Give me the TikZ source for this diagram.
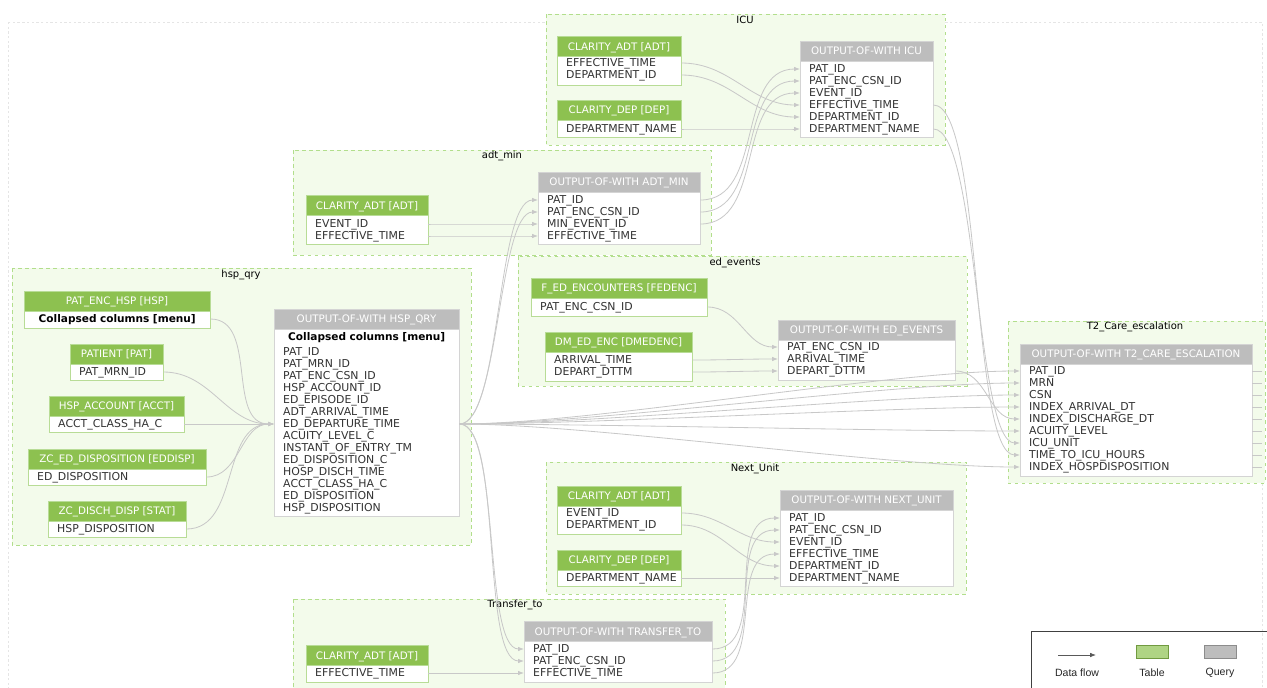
\documentclass[tikz,border=0pt]{standalone}
\usepackage{fontspec}
\setmainfont{DejaVu Sans}
\newfontfamily\legendfont{Liberation Sans}
\usepackage{tikz}
\usetikzlibrary{arrows.meta}
\usetikzlibrary{positioning}

\newlength\px
\setlength\px{0.03cm}

\definecolor{clusterfill}{RGB}{243,251,235}
\definecolor{clusterline}{RGB}{178,222,140}
\definecolor{tgreen}{RGB}{141,193,80}
\definecolor{tborder}{RGB}{184,220,150}
\definecolor{qgrey}{RGB}{189,189,189}
\definecolor{qborder}{RGB}{212,212,212}
\definecolor{rowtext}{RGB}{51,51,51}
\definecolor{edgegrey}{RGB}{200,200,200}

\tikzset{
  cluster/.style={draw=clusterline, fill=clusterfill, dash pattern=on 3pt off 3pt, line width=0.8pt},
  ctitle/.style={font=\fontsize{8.5}{10}\selectfont, text=black, inner sep=0pt},
  thead/.style={fill=tgreen, draw=tborder, text=white, minimum width=#1\px, minimum height=20\px,
    inner sep=0pt, text height=7.7\px, text depth=0pt, font=\fontsize{8.8}{10}\selectfont},
  qhead/.style={thead=#1, fill=qgrey, draw=qborder},
  tbody/.style={draw=tborder, fill=white, line width=0.8pt},
  qbody/.style={draw=qborder, fill=white, line width=0.8pt},
  row/.style={anchor=west, text width=#1\px, inner xsep=9\px, inner ysep=0pt, minimum height=12\px,
    text height=7.4\px, text depth=0pt, align=left, text=rowtext, font=\fontsize{9.3}{10}\selectfont},
  boldrow/.style={row=#1, align=center, text=black, font=\fontsize{9}{10}\selectfont\bfseries},
  flow/.style={-{Latex[length=5pt, width=3.8pt]}, draw=edgegrey, line width=0.7pt},
  stub/.style={draw=edgegrey, line width=0.7pt},
  legendtxt/.style={font=\legendfont\fontsize{9}{10}\selectfont, text=black!85, inner sep=0pt},
}

\begin{document}
\begin{tikzpicture}[x=0.03cm, y=-0.03cm]
\useasboundingbox (0,0) rectangle (1267,687);
\draw [draw=black!10, dash pattern=on 2pt off 2pt] (8,22) rectangle (1262,700);

% clusters
\draw [cluster] (546,14) rectangle (945,145);
\node [ctitle] (icu) at (745,20) {ICU};
\draw [cluster] (293,150) rectangle (711,255);
\node [ctitle] (adtmin) at (502,156) {adt\_min};
\draw [cluster] (12,268) rectangle (471,545);
\node [ctitle] (hspqry) at (241,275) {hsp\_qry};
\draw [cluster] (518,256) rectangle (967,386);
\node [ctitle] (edevents) at (735,263) {ed\_events};
\draw [cluster] (1008,321) rectangle (1265,483);
\node [ctitle] (t2) at (1135,327) {T2\_Care\_escalation};
\draw [cluster] (546,462) rectangle (966,594);
\node [ctitle] (nextunit) at (755,469) {Next\_Unit};
\draw [cluster] (293,599) rectangle (725,700);
\node [ctitle] (transferto) at (515,605) {Transfer\_to};

% ICU
\draw [tbody] (557,56) rectangle (681,85);
\node [thead=124] (icuadt) at (619,46.5) {CLARITY\_ADT [ADT]};
\node [row=106] (icuadt-eff) at (557,63) {EFFECTIVE\_TIME};
\node [row=106] (icuadt-dep) at (557,75) {DEPARTMENT\_ID};
\draw [tbody] (557,120) rectangle (681,137);
\node [thead=124] (icudep) at (619,110) {CLARITY\_DEP [DEP]};
\node [row=106] (icudep-name) at (557,129) {DEPARTMENT\_NAME};
\draw [qbody] (800,61) rectangle (933,137);
\node [qhead=133] (icuout) at (866.5,51) {OUTPUT-OF-WITH ICU};
\foreach \key/\lbl [count=\i from 0] in {pid/PAT\_ID, csn/PAT\_ENC\_CSN\_ID, evt/EVENT\_ID,
    eff/EFFECTIVE\_TIME, dep/DEPARTMENT\_ID, name/DEPARTMENT\_NAME}
  \node [row=115] (icuout-\key) at (800,69+12*\i) {\lbl};

% adt_min
\draw [tbody] (306,215) rectangle (428,244);
\node [thead=122] (minadt) at (367,205.5) {CLARITY\_ADT [ADT]};
\node [row=104] (minadt-evt) at (306,224) {EVENT\_ID};
\node [row=104] (minadt-eff) at (306,236) {EFFECTIVE\_TIME};
\draw [qbody] (538,192) rectangle (700,244);
\node [qhead=162] (minout) at (619,182) {OUTPUT-OF-WITH ADT\_MIN};
\foreach \key/\lbl [count=\i from 0] in {pid/PAT\_ID, csn/PAT\_ENC\_CSN\_ID, evt/MIN\_EVENT\_ID,
    eff/EFFECTIVE\_TIME}
  \node [row=144] (minout-\key) at (538,200+12*\i) {\lbl};

% hsp_qry
\draw [tbody] (24,311) rectangle (210,328);
\node [thead=186] (hspenc) at (117,301) {PAT\_ENC\_HSP [HSP]};
\node [boldrow=168] (hspenc-cols) at (24,319) {Collapsed columns [menu]};
\draw [tbody] (70,364) rectangle (163,380);
\node [thead=93] (hsppat) at (116.5,354) {PATIENT [PAT]};
\node [row=75] (hsppat-mrn) at (70,372) {PAT\_MRN\_ID};
\draw [tbody] (49,416) rectangle (184,432);
\node [thead=135] (hspacct) at (116.5,406) {HSP\_ACCOUNT [ACCT]};
\node [row=117] (hspacct-cls) at (49,424) {ACCT\_CLASS\_HA\_C};
\draw [tbody] (28,469) rectangle (206,485);
\node [thead=178] (hsped) at (117,459) {ZC\_ED\_DISPOSITION [EDDISP]};
\node [row=160] (hsped-disp) at (28,477) {ED\_DISPOSITION};
\draw [tbody] (48,521) rectangle (186,537);
\node [thead=138] (hspstat) at (117,511) {ZC\_DISCH\_DISP [STAT]};
\node [row=120] (hspstat-disp) at (48,529) {HSP\_DISPOSITION};
\draw [qbody] (274,329) rectangle (459,516);
\node [qhead=185] (hspout) at (366.5,319) {OUTPUT-OF-WITH HSP\_QRY};
\node [boldrow=167] (hspout-cols) at (274,337) {Collapsed columns [menu]};
\foreach \key/\lbl [count=\i from 0] in {pid/PAT\_ID, mrn/PAT\_MRN\_ID, csn/PAT\_ENC\_CSN\_ID,
    acct/HSP\_ACCOUNT\_ID, epi/ED\_EPISODE\_ID, arr/ADT\_ARRIVAL\_TIME, dep/ED\_DEPARTURE\_TIME,
    acu/ACUITY\_LEVEL\_C, inst/INSTANT\_OF\_ENTRY\_TM, dispc/ED\_DISPOSITION\_C,
    disch/HOSP\_DISCH\_TIME, cls/ACCT\_CLASS\_HA\_C, disp/ED\_DISPOSITION, hdisp/HSP\_DISPOSITION}
  \node [row=167] (hspout-\key) at (274,352+12*\i) {\lbl};

% ed_events
\draw [tbody] (531,298) rectangle (707,316);
\node [thead=176] (edf) at (619,288) {F\_ED\_ENCOUNTERS [FEDENC]};
\node [row=158] (edf-csn) at (531,307) {PAT\_ENC\_CSN\_ID};
\draw [tbody] (545,352) rectangle (692,381);
\node [thead=147] (eddm) at (618.5,342) {DM\_ED\_ENC [DMEDENC]};
\node [row=129] (eddm-arr) at (545,360) {ARRIVAL\_TIME};
\node [row=129] (eddm-dep) at (545,372) {DEPART\_DTTM};
\draw [qbody] (778,340) rectangle (955,380);
\node [qhead=177] (edout) at (866.5,330) {OUTPUT-OF-WITH ED\_EVENTS};
\foreach \key/\lbl [count=\i from 0] in {csn/PAT\_ENC\_CSN\_ID, arr/ARRIVAL\_TIME, dep/DEPART\_DTTM}
  \node [row=159] (edout-\key) at (778,347+12*\i) {\lbl};

% T2_Care_escalation
\draw [qbody] (1020,364) rectangle (1252,476);
\node [qhead=232] (t2out) at (1136,354) {OUTPUT-OF-WITH T2\_CARE\_ESCALATION};
\foreach \key/\lbl [count=\i from 0] in {pid/PAT\_ID, mrn/MRN, csn/CSN, arr/INDEX\_ARRIVAL\_DT,
    dis/INDEX\_DISCHARGE\_DT, acu/ACUITY\_LEVEL, icu/ICU\_UNIT, time/TIME\_TO\_ICU\_HOURS,
    hosp/INDEX\_HOSPDISPOSITION}
  \node [row=214] (t2out-\key) at (1020,371+12*\i) {\lbl};

% Next_Unit
\draw [tbody] (557,506) rectangle (681,534);
\node [thead=124] (nxadt) at (619,496) {CLARITY\_ADT [ADT]};
\node [row=106] (nxadt-evt) at (557,513) {EVENT\_ID};
\node [row=106] (nxadt-dep) at (557,525) {DEPARTMENT\_ID};
\draw [tbody] (557,570) rectangle (681,586);
\node [thead=124] (nxdep) at (619,560) {CLARITY\_DEP [DEP]};
\node [row=106] (nxdep-name) at (557,578) {DEPARTMENT\_NAME};
\draw [qbody] (780,510) rectangle (953,586);
\node [qhead=173] (nxout) at (866.5,500) {OUTPUT-OF-WITH NEXT\_UNIT};
\foreach \key/\lbl [count=\i from 0] in {pid/PAT\_ID, csn/PAT\_ENC\_CSN\_ID, evt/EVENT\_ID,
    eff/EFFECTIVE\_TIME, dep/DEPARTMENT\_ID, name/DEPARTMENT\_NAME}
  \node [row=155] (nxout-\key) at (780,518+12*\i) {\lbl};

% Transfer_to
\draw [tbody] (306,665) rectangle (428,682);
\node [thead=122] (tradt) at (367,655.5) {CLARITY\_ADT [ADT]};
\node [row=104] (tradt-eff) at (306,673) {EFFECTIVE\_TIME};
\draw [qbody] (524,641) rectangle (712,682);
\node [qhead=188] (trout) at (618,631.5) {OUTPUT-OF-WITH TRANSFER\_TO};
\foreach \key/\lbl [count=\i from 0] in {pid/PAT\_ID, csn/PAT\_ENC\_CSN\_ID, eff/EFFECTIVE\_TIME}
  \node [row=170] (trout-\key) at (524,649+12*\i) {\lbl};

% data flow
\draw [flow] (icuadt-eff.east) to[out=0, in=180] (icuout-eff.west);
\draw [flow] (icuadt-dep.east) to[out=0, in=180] (icuout-dep.west);
\draw [flow] (icudep-name.east) to[out=0, in=180] (icuout-name.west);
\foreach \key in {pid, csn, evt}
  \draw [flow] (minout-\key.east) to[out=0, in=180] (icuout-\key.west);

\draw [flow] (minadt-evt.east) to[out=0, in=180] (minout-evt.west);
\draw [flow] (minadt-eff.east) to[out=0, in=180] (minout-eff.west);
\draw [flow] (hspout-dep.east) to[out=0, in=180, looseness=0.45] (minout-pid.west);
\draw [flow] (hspout-dep.east) to[out=0, in=180, looseness=0.45] (minout-csn.west);

\foreach \src in {hspenc-cols, hsppat-mrn, hspacct-cls, hsped-disp, hspstat-disp}
  \draw [flow] (\src.east) to[out=0, in=180] (hspout-dep.west);

\draw [flow] (edf-csn.east) to[out=0, in=180] (edout-csn.west);
\draw [flow] (eddm-arr.east) to[out=0, in=180] (edout-arr.west);
\draw [flow] (eddm-dep.east) to[out=0, in=180] (edout-dep.west);

\draw [flow] (nxadt-evt.east) to[out=0, in=180] (nxout-evt.west);
\draw [flow] (nxadt-dep.east) to[out=0, in=180] (nxout-dep.west);
\draw [flow] (nxdep-name.east) to[out=0, in=180] (nxout-name.west);
\foreach \key in {pid, csn, eff}
  \draw [flow] (trout-\key.east) to[out=0, in=180] (nxout-\key.west);

\draw [flow] (hspout-dep.east) to[out=0, in=180, looseness=0.45] (trout-pid.west);
\draw [flow] (hspout-dep.east) to[out=0, in=180, looseness=0.45] (trout-csn.west);
\draw [flow] (tradt-eff.east) to[out=0, in=180] (trout-eff.west);

\foreach \key in {pid, mrn, csn, arr, acu, hosp}
  \draw [flow] (hspout-dep.east) to[out=0, in=180, looseness=0.6] (t2out-\key.west);
\draw [flow] (edout-dep.east) to[out=0, in=180] (t2out-dis.west);
\draw [flow] (icuout-name.east) to[out=0, in=180, looseness=0.35] (t2out-icu.west);
\draw [flow] (icuout-eff.east) to[out=0, in=180, looseness=0.35] (t2out-time.west);

\foreach \key in {pid, mrn, csn, arr, dis, acu, icu, time, hosp} {
  \coordinate [right=8.5pt of t2out-\key.east] (t2end-\key);
  \draw [stub] (t2out-\key.east) -- (t2end-\key);
}

% legend
\draw [draw=black!75, line width=0.8pt] (1031,631) rectangle (1280,700);
\coordinate (lgfrom) at (1058,655);
\coordinate (lgto) at (1096,655);
\draw [-{Latex[length=5pt, width=3.8pt]}, draw=black!65, line width=0.6pt] (lgfrom) -- (lgto);
\node [legendtxt] (lgflow) at (1077,673) {Data flow};
\node [draw=tgreen!80!black, fill=tgreen!70, minimum width=32\px, minimum height=13\px, inner sep=0pt] (lgtable) at (1152,651.5) {};
\node [legendtxt] (lgtabletxt) at (1152,673) {Table};
\node [draw=black!45, fill=qgrey, minimum width=32\px, minimum height=13\px, inner sep=0pt] (lgquery) at (1220,651.5) {};
\node [legendtxt] (lgquerytxt) at (1220,673) {Query};
\end{tikzpicture}
\end{document}
